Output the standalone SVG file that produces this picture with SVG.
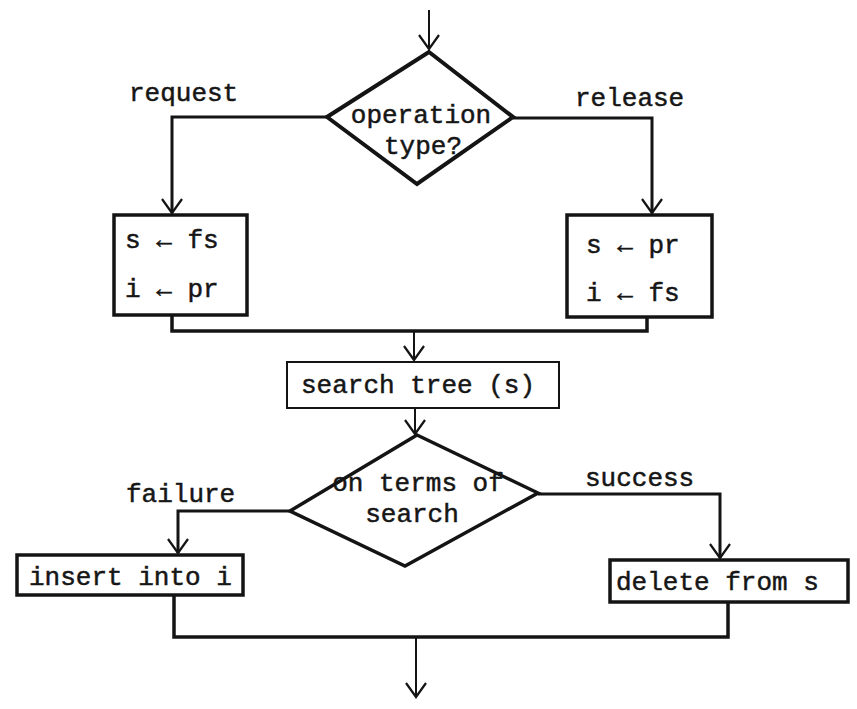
<svg xmlns="http://www.w3.org/2000/svg" width="857" height="709" viewBox="0 0 857 709">
  <style>
    .t { font-family: "Liberation Mono", "Courier New", monospace; font-size: 26px; fill: #161616; stroke: #161616; stroke-width: 0.5px; }
    .c { text-anchor: middle; }
    .shape { fill: #fff; stroke: #141414; stroke-linejoin: miter; }
    .thick { stroke-width: 3.5px; }
    .med { stroke-width: 3px; }
    .thin { stroke-width: 2px; }
    .conn { fill: none; stroke: #141414; stroke-linejoin: miter; }
  </style>
  <defs>
    <marker id="arr" markerUnits="userSpaceOnUse" markerWidth="40" markerHeight="40" viewBox="-20 -20 40 40" refX="0" refY="0" orient="auto" overflow="visible">
      <path d="M-14,-10 L0,0 L-14,10" fill="none" stroke="#141414" stroke-width="2.2"/>
    </marker>
  </defs>
  <rect width="857" height="709" fill="#fff"/>

  <g id="connectors">
    <path class="conn thin" d="M429,10 V49" marker-end="url(#arr)"/>
    <path class="conn med" d="M327,117 H172 V213" marker-end="url(#arr)"/>
    <path class="conn med" d="M513,118 H652 V213" marker-end="url(#arr)"/>
    <path class="conn thick" d="M172,315 V331 H647 V317"/>
    <path class="conn thin" d="M414,331 V360" marker-end="url(#arr)"/>
    <path class="conn thin" d="M415,408 V434" marker-end="url(#arr)"/>
    <path class="conn med" d="M290,511 H178 V553" marker-end="url(#arr)"/>
    <path class="conn med" d="M538,494 H720 V558" marker-end="url(#arr)"/>
    <path class="conn thick" d="M174,595 V637 H728 V602"/>
    <path class="conn thin" d="M416,637 V697" marker-end="url(#arr)"/>
    <text class="t" x="129" y="101">request</text>
    <text class="t" x="575" y="106">release</text>
    <text class="t" x="126" y="502">failure</text>
    <text class="t" x="585" y="486">success</text>
  </g>

  <g id="decision-operation">
    <polygon class="shape" stroke-width="4" points="429,52 513,117 417,184 327,117"/>
    <text class="t c" x="421" y="123">operation</text>
    <text class="t c" x="423" y="154">type?</text>
  </g>

  <g id="box-request">
    <rect class="shape thick" x="114" y="215" width="133" height="100"/>
    <text class="t" x="125" y="248">s ← fs</text>
    <text class="t" x="125" y="297">i ← pr</text>
  </g>

  <g id="box-release">
    <rect class="shape thick" x="567" y="215" width="145" height="102"/>
    <text class="t" x="586" y="253">s ← pr</text>
    <text class="t" x="586" y="301">i ← fs</text>
  </g>

  <g id="box-search">
    <rect class="shape thin" x="287" y="362" width="272" height="46"/>
    <text class="t" x="301" y="393">search tree (s)</text>
  </g>

  <g id="decision-search">
    <polygon class="shape thick" points="417,435 538,493 405,566 290,511"/>
    <text class="t c" x="418" y="491">on terms of</text>
    <text class="t c" x="412" y="522">search</text>
  </g>

  <g id="box-insert">
    <rect class="shape thick" x="17" y="555" width="226" height="40"/>
    <text class="t" x="29" y="585">insert into i</text>
  </g>

  <g id="box-delete">
    <rect class="shape thick" x="610" y="560" width="238" height="42"/>
    <text class="t" x="616" y="590">delete from s</text>
  </g>
</svg>
